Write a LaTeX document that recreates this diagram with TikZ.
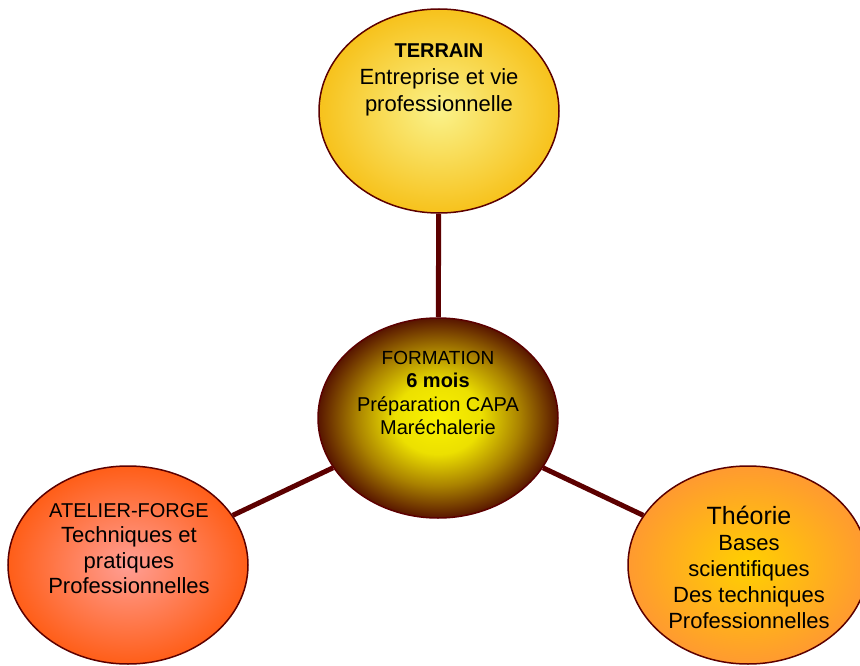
\documentclass[tikz,border=0pt]{standalone}
\usepackage{fontspec}
\setmainfont{Liberation Sans}
\usepackage{xcolor}
\usetikzlibrary{shapes.geometric}

\definecolor{maroon}{HTML}{5C0000}
\definecolor{terrainIn}{HTML}{FAF28A}
\definecolor{terrainOut}{HTML}{F7C21C}
\definecolor{atelierIn}{HTML}{FF9E94}
\definecolor{atelierOut}{HTML}{FF5E18}
\definecolor{theoIn}{HTML}{FFD000}
\definecolor{theoOut}{HTML}{FF9A30}
\pgfdeclareradialshading{formglow}{\pgfpoint{0bp}{0bp}}{%
  color(0bp)=(rgb,255:red,250;green,242;blue,0);
  color(9bp)=(rgb,255:red,236;green,224;blue,0);
  color(17bp)=(rgb,255:red,170;green,130;blue,0);
  color(25bp)=(rgb,255:red,88;green,22;blue,0);
  color(50bp)=(rgb,255:red,88;green,22;blue,0)}

\tikzset{
  bubble/.style={ellipse, draw=maroon, line width=1.5pt, inner sep=0pt,
    minimum width=240pt, minimum height=200pt},
  txt/.style={align=center, inner sep=0pt, text=black},
  link/.style={draw=maroon, line width=5pt}
}

\begin{document}
\begin{tikzpicture}[x=1pt, y=-1pt]
            \useasboundingbox (0,0) rectangle (860,666);
            \node[bubble, minimum height=204pt, inner color=terrainIn, outer color=terrainOut] (terrain) at (439,111) {};
            \node[bubble, shading=formglow] (form) at (438,418) {};
            \node[bubble, minimum height=198pt, inner color=atelierIn, outer color=atelierOut] (atelier) at (128,565) {};
            \node[bubble, minimum height=198pt, inner color=theoIn, outer color=theoOut] (theo) at (748,565) {};
            \node[txt, font=\fontsize{22}{27}\selectfont] (terrainTxt) at ([yshift=31pt]terrain.center) {\textbf{\fontsize{20}{27}\selectfont TERRAIN}\\Entreprise et vie\\professionnelle};
            \node[txt, font=\fontsize{20}{23.5}\selectfont] (formTxt) at ([yshift=25pt]form.center) {{\fontsize{19}{23.5}\selectfont FORMATION}\\\textbf{6 mois}\\Préparation CAPA\\Maréchalerie};
            \node[txt, font=\fontsize{22}{25.5}\selectfont] (atelierTxt) at ([xshift=1pt, yshift=16.5pt]atelier.center) {{\fontsize{20}{25.5}\selectfont ATELIER-FORGE}\\Techniques et\\pratiques\\Professionnelles};
            \node[txt, font=\fontsize{22}{26}\selectfont] (theoTxt) at ([xshift=1pt, yshift=-2pt]theo.center) {{\fontsize{25}{28}\selectfont Théorie}\\Bases\\scientifiques\\Des techniques\\Professionnelles};
            \draw[link] (terrain) -- (form);
            \draw[link] (atelier) -- (form);
            \draw[link] (theo) -- (form);
        \end{tikzpicture}
\end{document}
